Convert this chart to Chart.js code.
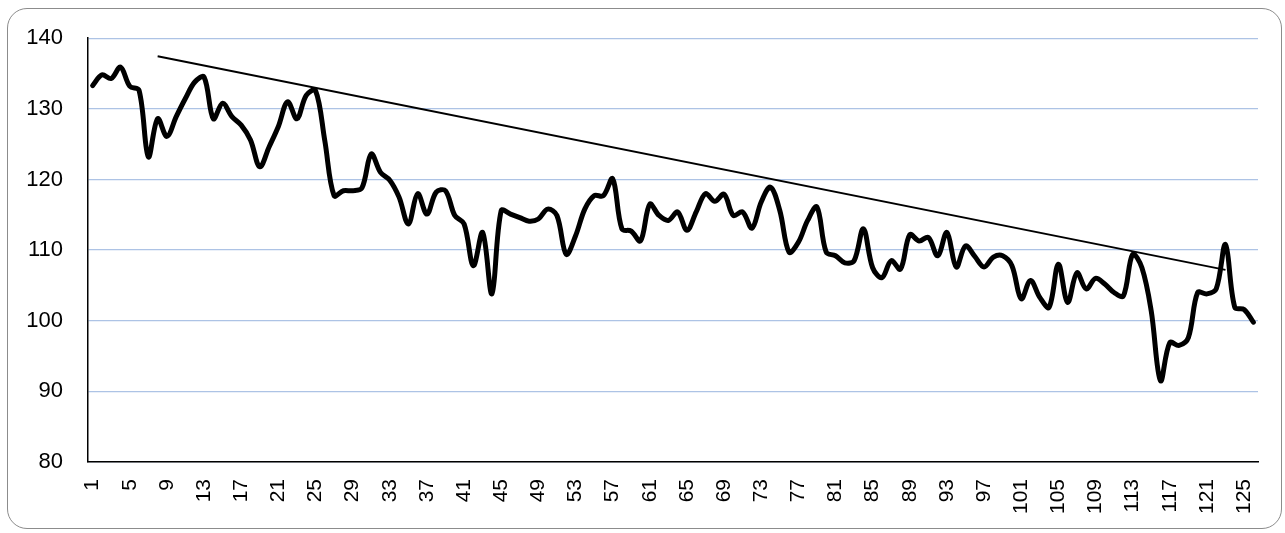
<!DOCTYPE html>
<html>
<head>
<meta charset="utf-8">
<script src="https://cdn.jsdelivr.net/npm/chart.js@4/dist/chart.umd.min.js"></script>
<style>
  html, body { margin: 0; padding: 0; background: #fff; }
  #frame {
    position: absolute; left: 7px; top: 8px; width: 1273px; height: 519px;
    border: 1.5px solid #8c8c8c; border-radius: 20px;
  }
  #wrap { position: absolute; left: 0; top: 0; width: 1285px; height: 533px; }
</style>
</head>
<body>
<div id="frame"></div>
<div id="wrap"><canvas id="myChart" width="1285" height="533"></canvas></div>
<script>
"use strict";

// series values, one per period (1..126)
const values = [
  133.3, 134.8, 134.3, 135.9, 133.2, 132.6, 123.2, 128.6, 126.1, 128.9,
  131.5, 133.8, 134.5, 128.6, 130.8, 128.9, 127.7, 125.6, 121.8, 124.6,
  127.5, 131.0, 128.6, 131.9, 132.6, 125.5, 117.7, 118.4, 118.4, 118.8,
  123.6, 121.0, 119.9, 117.5, 113.7, 118.0, 115.1, 118.2, 118.4, 114.9,
  113.7, 107.8, 112.5, 103.8, 115.6, 115.1, 114.6, 114.1, 114.4, 115.8,
  114.9, 109.4, 112.0, 115.8, 117.7, 117.7, 120.1, 113.0, 112.7, 111.3,
  116.5, 114.9, 114.2, 115.4, 112.8, 115.4, 118.0, 116.9, 117.9, 114.9,
  115.4, 113.1, 116.8, 118.9, 115.6, 109.7, 111.1, 114.2, 116.1, 109.7,
  109.2, 108.2, 108.5, 113.0, 107.5, 106.1, 108.5, 107.3, 112.2, 111.3,
  111.8, 109.2, 112.5, 107.6, 110.6, 109.1, 107.6, 109.0, 109.2, 107.8,
  103.1, 105.7, 103.3, 101.9, 108.0, 102.6, 106.8, 104.5, 106.0, 105.2,
  104.0, 103.5, 109.4, 107.5, 101.4, 91.5, 96.9, 96.5, 97.6, 104.0,
  103.8, 104.5, 110.8, 101.9, 101.6, 99.8
];

// hand drawn trend line: [period, value]
const trendStart = [8, 137.45];
const trendEnd = [123, 107.2];

const categories = values.map((v, i) => String(i + 1));

const trendData = categories.map(() => null);
trendData[trendStart[0] - 1] = trendStart[1];
trendData[trendEnd[0] - 1] = trendEnd[1];

const yMin = 80;
const yMax = 140;
const yStep = 10;

const chartConfig = {
  type: "line",
  data: {
    labels: categories,
    datasets: [
      {
        label: "Series",
        data: values,
        borderColor: "#000000",
        borderWidth: 5,
        pointRadius: 0,
        tension: 0.35,
        borderJoinStyle: "round",
        borderCapStyle: "round",
        fill: false,
      },
      {
        label: "Trend",
        data: trendData,
        borderColor: "#000000",
        borderWidth: 2,
        pointRadius: 0,
        tension: 0,
        spanGaps: true,
        fill: false,
      },
    ],
  },
  options: {
    responsive: false,
    animation: false,
    layout: { padding: { top: 38, right: 27, left: 0, bottom: 0 } },
    plugins: {
      legend: { display: false },
      tooltip: { enabled: false },
    },
    scales: {
      x: {
        type: "category",
        offset: true,
        grid: { display: false, drawTicks: false },
        border: { color: "#000000", width: 1.5 },
        ticks: {
          autoSkip: false,
          maxRotation: 90,
          minRotation: 90,
          padding: 17,
          color: "#000000",
          font: { family: "Liberation Sans", size: 21 },
          callback: function (val, index) {
            return index % 4 === 0 ? this.getLabelForValue(val) : "";
          },
        },
        afterFit: function (scale) {
          scale.height = 71;
          scale.paddingLeft = 0;
          scale.paddingRight = 0;
        },
      },
      y: {
        min: yMin,
        max: yMax,
        grid: { color: "#adc3e5", lineWidth: 1.3, drawTicks: false },
        border: { color: "#000000", width: 1.5 },
        ticks: {
          stepSize: yStep,
          padding: 25,
          color: "#000000",
          font: { family: "Liberation Sans", size: 22 },
        },
        afterFit: function (scale) {
          scale.width = 88;
        },
      },
    },
  },
};

const canvas = document.getElementById("myChart");
const myChart = new Chart(canvas.getContext("2d"), chartConfig);
</script>
</body>
</html>
